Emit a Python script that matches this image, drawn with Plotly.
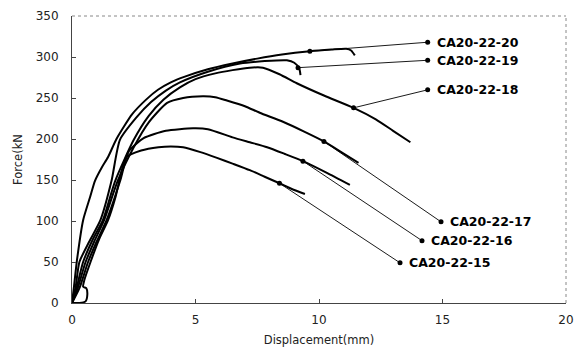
import plotly.graph_objects as go

# ---- data ----
names = ["CA20-22-15", "CA20-22-16", "CA20-22-17", "CA20-22-18", "CA20-22-19", "CA20-22-20"]

x15 = [0, 0.3, 0.55, 0.62, 0.58, 0.45, 0.5, 0.75, 1.1, 1.46, 1.75, 2.0, 2.2, 2.8, 3.5, 4.0, 4.5, 5.2, 5.87, 6.5, 7.2, 7.8, 8.4, 8.9, 9.43]
y15 = [0, 0, 2, 10, 18, 20, 28, 50, 78, 101, 128, 160, 178, 186, 190, 191, 190, 184, 177, 170, 162, 154, 146, 139, 133]

x16 = [0, 0.3, 0.65, 1.0, 1.4, 1.95, 2.3, 2.9, 3.8, 4.9, 5.5, 6.5, 7.2, 7.9, 8.6, 9.35, 10.3, 11.25]
y16 = [0, 18, 50, 75, 101, 149, 185, 201, 210, 213, 212, 202, 196, 190, 182, 173, 159, 144]

x17 = [0, 0.25, 0.55, 0.9, 1.3, 1.85, 2.5, 3.1, 3.85, 4.5, 5.3, 5.8, 6.27, 7.0, 7.6, 8.54, 9.4, 10.2, 10.9, 11.6]
y17 = [0, 20, 50, 75, 101, 149, 190, 220, 244, 250, 252, 251, 247, 240, 232, 221, 209, 197, 184, 171]

x18 = [0, 0.2, 0.45, 0.85, 1.25, 1.75, 2.5, 3.1, 3.7, 4.37, 5.0, 5.8, 6.5, 7.2, 7.73, 8.4, 9.1, 10.2, 11.4, 12.3, 13.0, 13.7]
y18 = [0, 20, 50, 78, 101, 149, 199, 228, 248, 263, 273, 280, 284, 287, 287, 279, 268, 253, 238, 224, 210, 196]

x19 = [0, 0.15, 0.3, 0.7, 1.15, 1.6, 1.94, 2.6, 3.2, 3.8, 4.37, 5.5, 6.8, 7.8, 8.7, 9.0, 9.2, 9.25]
y19 = [0, 20, 50, 75, 101, 149, 199, 226, 245, 259, 269, 282, 292, 295, 296, 293, 286, 278]

x20 = [0, 0.08, 0.2, 0.45, 0.73, 0.93, 1.2, 1.46, 1.8, 2.43, 3.0, 3.48, 4.0, 4.57, 5.5, 6.5, 7.5, 8.5, 9.63, 10.5, 11.1, 11.3, 11.45]
y20 = [0, 20, 52, 101, 129, 149, 165, 178, 200, 230, 248, 260, 269, 276, 285, 292, 298, 303, 307, 309, 310, 308, 302]

# leader lines: point on curve -> label point
lead_x0 = [8.4, 9.35, 10.2, 11.4, 9.15, 9.63]
lead_y0 = [146, 173, 197, 238, 287, 307]
lead_x1 = [13.28, 14.17, 14.94, 14.4, 14.4, 14.4]
lead_y1 = [49, 76, 99, 260, 296, 318]

x_ticks = [0, 5, 10, 15, 20]
y_ticks = [0, 50, 100, 150, 200, 250, 300, 350]

xs = [x15, x16, x17, x18, x19, x20]
ys = [y15, y16, y17, y18, y19, y20]

fig = go.Figure()
for n, xv, yv in zip(names, xs, ys):
    fig.add_trace(go.Scatter(x=xv, y=yv, mode="lines", name=n,
                             line=dict(color="black", width=2, shape="spline", smoothing=0.6),
                             showlegend=False, hoverinfo="skip"))

for i, n in enumerate(names):
    fig.add_trace(go.Scatter(x=[lead_x0[i], lead_x1[i]], y=[lead_y0[i], lead_y1[i]],
                             mode="lines+markers",
                             line=dict(color="black", width=0.9),
                             marker=dict(color="black", size=5),
                             showlegend=False, hoverinfo="skip"))
    fig.add_annotation(x=lead_x1[i], y=lead_y1[i], text="<b>" + n + "</b>",
                       showarrow=False, xanchor="left", yanchor="middle", xshift=7,
                       font=dict(family="DejaVu Sans", size=12.5, color="black"))

# dotted top/right frame
fig.add_shape(type="line", xref="paper", yref="paper", x0=0, x1=1, y0=1, y1=1,
              line=dict(color="#888", width=1, dash="dot"))
fig.add_shape(type="line", xref="paper", yref="paper", x0=1, x1=1, y0=0, y1=1,
              line=dict(color="#888", width=1, dash="dot"))

axis_font = dict(family="DejaVu Sans", size=12, color="#222")
title_font = dict(family="DejaVu Sans", size=11.5, color="#222")
fig.update_xaxes(range=[0, 20], tickvals=x_ticks, ticks="inside", ticklen=4, tickcolor="#444",
                 showline=True, linecolor="#444", linewidth=1, showgrid=False, zeroline=False,
                 tickfont=axis_font, ticklabelstandoff=6, automargin=False,
                 title=dict(text="Displacement(mm)", font=title_font, standoff=9))
fig.update_yaxes(range=[0, 350], tickvals=y_ticks, ticks="inside", ticklen=4, tickcolor="#444",
                 showline=True, linecolor="#444", linewidth=1, showgrid=False, zeroline=False,
                 tickfont=axis_font, ticklabelstandoff=10, automargin=False,
                 title=dict(text="Force(kN", font=title_font, standoff=10))

# page body has an 8px margin; offsets compensate so the plot area lands where the reference has it
fig.update_layout(width=584, height=347, margin=dict(l=64, r=26, t=8, b=52),
                  plot_bgcolor="white", paper_bgcolor="white")

fig.write_html("out.html")
